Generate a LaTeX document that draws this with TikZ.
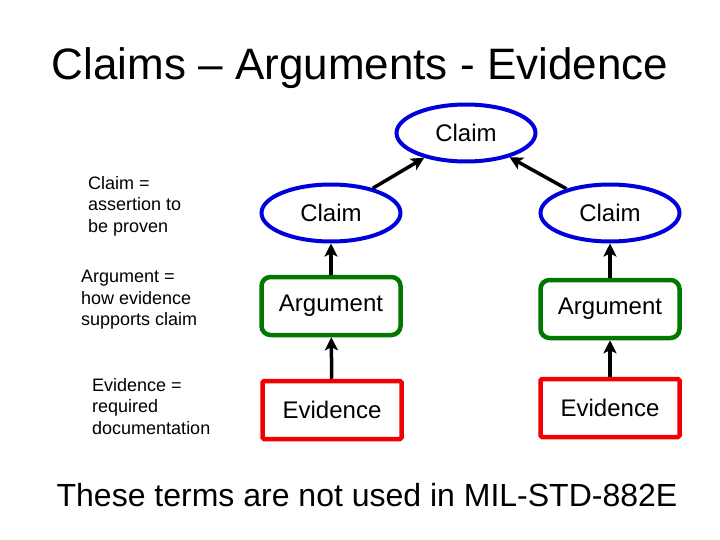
\documentclass[tikz,border=0pt]{standalone}
\usepackage{fontspec}
\setmainfont{Liberation Sans}
\usetikzlibrary{shapes.geometric,arrows.meta}
\definecolor{cblue}{RGB}{0,0,220}
\definecolor{cgreen}{RGB}{0,120,0}
\definecolor{cred}{RGB}{240,0,0}
\tikzset{
  claimnode/.style={ellipse,draw=cblue,line width=4pt,minimum width=139pt,minimum height=57pt,inner sep=0pt,font=\fontsize{24}{28}\selectfont},
  argnode/.style={rectangle,rounded corners=9pt,draw=cgreen,line width=4.5pt,minimum width=139pt,minimum height=58pt,inner sep=0pt,font=\fontsize{24}{28}\selectfont},
  evnode/.style={rectangle,rounded corners=1.5pt,draw=cred,line width=4.5pt,minimum width=139pt,minimum height=58pt,inner sep=0pt,font=\fontsize{24}{28}\selectfont},
  conn/.style={line width=3.5pt,-{Stealth[length=13pt,width=13pt,inset=3pt]}},
  lbl/.style={anchor=north west,align=left,inner sep=0pt,font=\fontsize{18}{21.5}\selectfont},
}
\begin{document}
\begin{tikzpicture}[x=1pt,y=-1pt]
\useasboundingbox (0,0) rectangle (720,540);
\fill[white] (0,0) rectangle (720,540);
\node[font=\fontsize{44}{48}\selectfont,inner sep=0pt] (title) at (360,68) {Claims – Arguments - Evidence};
\node[claimnode] (top) at (466,133) {Claim};
\node[claimnode] (cl) at (331,213) {Claim};
\node[claimnode] (cr) at (610,213) {Claim};
\node[argnode] (al) at (331,306) {Argument};
\node[argnode] (ar) at (610,309) {Argument};
\node[evnode] (el) at (332,410) {Evidence};
\node[evnode] (er) at (610,408) {Evidence};
\draw[conn] (cl) -- (top);
\draw[conn] (cr) -- (top);
\draw[conn] (al) -- (cl);
\draw[conn] (ar) -- (cr);
\draw[conn] (el) -- (al);
\draw[conn] (er) -- (ar);
\node[lbl] (l1) at (88,176) {Claim =\\assertion to\\be proven};
\node[lbl] (l2) at (81,270) {Argument =\\how evidence\\supports claim};
\node[lbl] (l3) at (92,378) {Evidence =\\required\\documentation};
\node[font=\fontsize{32}{36}\selectfont,inner sep=0pt] (bottom) at (367,495) {These terms are not used in MIL-STD-882E};
\end{tikzpicture}
\end{document}
